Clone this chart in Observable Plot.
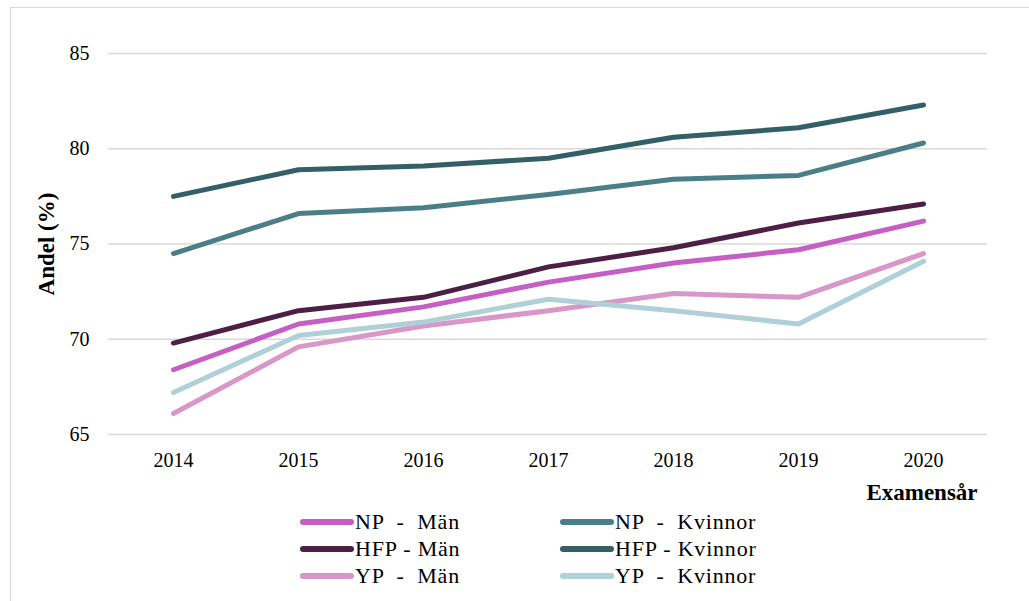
<!DOCTYPE html>
<html>
<head>
<meta charset="utf-8">
<script src="https://cdn.jsdelivr.net/npm/d3@7"></script>
<script src="https://cdn.jsdelivr.net/npm/@observablehq/plot@0.6"></script>
<style>
  html, body { margin: 0; padding: 0; background: #fff; }
  #wrap { position: relative; width: 1029px; height: 601px; overflow: hidden; font-family: "Liberation Serif", "Times New Roman", serif; }
  #frame { position: absolute; left: 10px; top: 7px; width: 1030px; height: 600px; border: 1px solid #d9d9d9; box-sizing: border-box; }
  #chart { position: absolute; left: 0; top: 0; }
  .lab { position: absolute; font-weight: bold; font-size: 23px; color: #000; white-space: nowrap; }
  #ylab { left: 47px; top: 244px; transform: translate(-50%, -50%) rotate(-90deg); }
  #xlab { left: 922px; top: 493px; transform: translate(-50%, -50%); }
  .leg { position: absolute; display: flex; align-items: center; font-size: 22px; letter-spacing: 0.8px; color: #000; white-space: pre; height: 26px; }
  .sw { width: 54px; height: 6px; border-radius: 3px; margin-right: 1px; }
</style>
</head>
<body>
<div id="wrap">
  <div id="frame"></div>
  <div id="chart"></div>
  <div class="lab" id="ylab">Andel (%)</div>
  <div class="lab" id="xlab">Examensår</div>
  <div id="legend"></div>
</div>
<script>
const years = [2014, 2015, 2016, 2017, 2018, 2019, 2020];
const seriesNames = ["NP  -  Män", "HFP - Män", "YP  -  Män", "NP  -  Kvinnor", "HFP - Kvinnor", "YP  -  Kvinnor"];
const seriesColors = ["#c55fc5", "#4e1f45", "#d996c8", "#4a7f88", "#335f66", "#afd0d6"];
const npMan      = [68.4, 70.8, 71.7, 73.0, 74.0, 74.7, 76.2];
const hfpMan     = [69.8, 71.5, 72.2, 73.8, 74.8, 76.1, 77.1];
const ypMan      = [66.1, 69.6, 70.7, 71.5, 72.4, 72.2, 74.5];
const npKvinnor  = [74.5, 76.6, 76.9, 77.6, 78.4, 78.6, 80.3];
const hfpKvinnor = [77.5, 78.9, 79.1, 79.5, 80.6, 81.1, 82.3];
const ypKvinnor  = [67.2, 70.2, 70.9, 72.1, 71.5, 70.8, 74.1];
const yTicks = [65, 70, 75, 80, 85];

const FONT = "'Liberation Serif', 'Times New Roman', serif";
const seriesValues = [npMan, hfpMan, ypMan, npKvinnor, hfpKvinnor, ypKvinnor];
const drawOrder = [4, 3, 2, 5, 0, 1];
const data = [];
for (const i of drawOrder) {
  years.forEach((y, j) => data.push({series: seriesNames[i], year: y, value: seriesValues[i][j]}));
}

const chart = Plot.plot({
  width: 1029,
  height: 505,
  marginTop: 53,
  marginBottom: 71,
  marginLeft: 108,
  marginRight: 42,
  style: {fontFamily: FONT, fontSize: "20px", color: "#000", background: "transparent"},
  x: {type: "point", domain: years, padding: 0.5, label: null},
  y: {domain: [65, 85], label: null},
  color: {domain: seriesNames, range: seriesColors},
  marks: [
    Plot.gridY(yTicks, {stroke: "#d9d9d9", strokeOpacity: 1, strokeWidth: 1.5}),
    Plot.axisX({tickSize: 0, tickPadding: 18, fontSize: 20, fontFamily: FONT, tickFormat: d => String(d), label: null}),
    Plot.axisY(yTicks, {tickSize: 0, tickPadding: 19, fontSize: 20, fontFamily: FONT, label: null}),
    Plot.line(data, {x: "year", y: "value", z: "series", stroke: "series", strokeWidth: 5, strokeLinecap: "round", strokeLinejoin: "round"})
  ]
});
document.getElementById("chart").appendChild(chart);

const legend = document.getElementById("legend");
const legPos = [[300, 509], [300, 536], [300, 563], [560, 509], [560, 536], [560, 563]];
seriesNames.forEach((name, i) => {
  const d = document.createElement("div");
  d.className = "leg";
  d.style.left = legPos[i][0] + "px";
  d.style.top = legPos[i][1] + "px";
  const sw = document.createElement("div");
  sw.className = "sw";
  sw.style.background = seriesColors[i];
  d.appendChild(sw);
  d.appendChild(document.createTextNode(name));
  legend.appendChild(d);
});
</script>
</body>
</html>
